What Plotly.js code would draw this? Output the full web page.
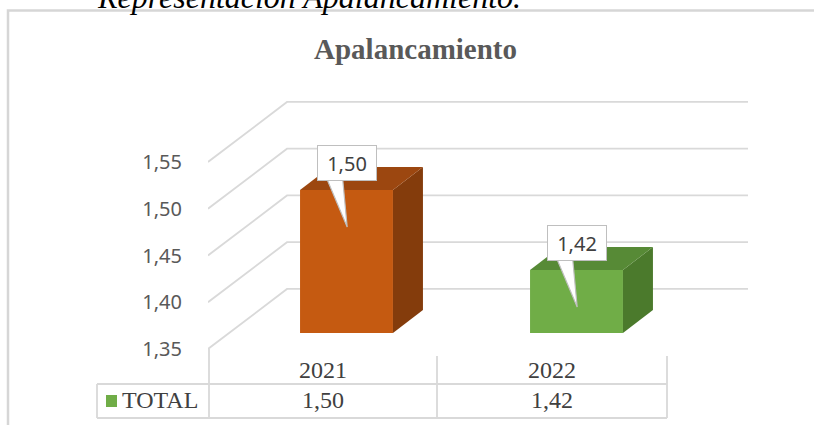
<!DOCTYPE html>
<html>
<head>
<meta charset="utf-8">
<script src="https://cdn.plot.ly/plotly-3.0.1.min.js"></script>
<style>html,body{margin:0;padding:0;background:#fff;}#chart{width:814px;height:425px;}</style>
</head>
<body>
<div id="chart"></div>
<script>
// ---- data ----
const categories = ['2021', '2022'];
const values = [1.50, 1.42];
const tickValues = [1.35, 1.40, 1.45, 1.50, 1.55];
const seriesName = 'TOTAL';
const chartTitle = 'Apalancamiento';
const caption = 'Representación Apalancamiento.';

// ---- styles ----
const frontColors = ['#C55A11', '#70AD47'];
const sideColors = ['#843C0C', '#4B7A2C'];
const topColors = ['#9C4710', '#578A36'];
const gridColor = '#D9D9D9';
const W = 814, H = 425;
const BASE = 1.357;          // floor of the 3D bars
const BAR_W = 0.404;         // bar width in category units
const DX = 0.1304, DY = 0.023; // depth offset of bars (x units, y units)
const GDX = 0.1463, GDY = 0.0642; // depth offset of wall gridlines

const fmt = v => v.toFixed(2).replace('.', ',');

const traces = [];

// gridlines (floor diagonal + back wall), on label axis x/y
tickValues.forEach(v => {
  traces.push({
    type: 'scatter', mode: 'lines', xaxis: 'x', yaxis: 'y',
    x: [0, GDX, 1], y: [v, v + GDY, v + GDY],
    line: {color: gridColor, width: 1.8}, hoverinfo: 'skip', showlegend: false
  });
});

// front faces of bars
traces.push({
  type: 'bar', xaxis: 'x2', yaxis: 'y2', name: seriesName,
  x: categories.map((c, i) => i), y: values.map(v => v - BASE), base: BASE,
  width: BAR_W, marker: {color: frontColors, line: {width: 0}},
  hoverinfo: 'skip', showlegend: false
});

// side and top faces
values.forEach((v, i) => {
  const l = i - BAR_W / 2, r = i + BAR_W / 2;
  traces.push({
    type: 'scatter', mode: 'lines', xaxis: 'x2', yaxis: 'y2', fill: 'toself',
    x: [r, r + DX, r + DX, r, r], y: [BASE, BASE + DY, v + DY, v, BASE],
    fillcolor: sideColors[i], line: {width: 0, color: sideColors[i]},
    hoverinfo: 'skip', showlegend: false
  });
  traces.push({
    type: 'scatter', mode: 'lines', xaxis: 'x2', yaxis: 'y2', fill: 'toself',
    x: [l, l + DX, r + DX, r, l], y: [v, v + DY, v + DY, v, v],
    fillcolor: topColors[i], line: {width: 0, color: topColors[i]},
    hoverinfo: 'skip', showlegend: false
  });
});

// callout wedges
values.forEach((v, i) => {
  traces.push({
    type: 'scatter', mode: 'lines', xaxis: 'x2', yaxis: 'y2', fill: 'toself',
    x: [i - 0.087, i + 0.003, i - 0.017, i - 0.087], y: [v + 0.012, v - 0.037, v + 0.012, v + 0.012],
    fillcolor: '#FFFFFF', line: {width: 1.2, color: '#BFBFBF'},
    hoverinfo: 'skip', showlegend: false
  });
});

const annotations = [];
// title
annotations.push({
  xref: 'paper', yref: 'paper', x: 415 / W, y: 1 - 49 / H, xanchor: 'center', yanchor: 'middle',
  text: '<b>' + chartTitle + '</b>', showarrow: false,
  font: {family: 'Liberation Serif', size: 29, color: '#595959'}
});
// caption (cut off at top)
annotations.push({
  xref: 'paper', yref: 'paper', x: 96 / W, y: 1 - 16 / H, xanchor: 'left', yanchor: 'bottom',
  text: '<i>' + caption + '</i>', showarrow: false, borderpad: 0,
  font: {family: 'Liberation Serif', size: 32, color: '#000000'}
});
// data labels (callouts)
values.forEach((v, i) => {
  annotations.push({
    xref: 'x2', yref: 'y2', x: i + 0.002, y: v + 0.027, xanchor: 'center', yanchor: 'middle',
    text: fmt(v), showarrow: false, width: 54, height: 30, borderpad: 2,
    bgcolor: '#FFFFFF', bordercolor: '#BFBFBF', borderwidth: 1,
    font: {family: 'Noto Sans', size: 20, color: '#404040'}
  });
});
// data table text
const colEdges = [209, 437, 667];
categories.forEach((c, i) => {
  const cx = (colEdges[i] + colEdges[i + 1]) / 2 / W;
  annotations.push({
    xref: 'paper', yref: 'paper', x: cx, y: 1 - 370 / H, xanchor: 'center', yanchor: 'middle',
    text: c, showarrow: false, font: {family: 'Liberation Serif', size: 24, color: '#404040'}
  });
  annotations.push({
    xref: 'paper', yref: 'paper', x: cx, y: 1 - 400 / H, xanchor: 'center', yanchor: 'middle',
    text: fmt(values[i]), showarrow: false, font: {family: 'Liberation Serif', size: 24, color: '#404040'}
  });
});
annotations.push({
  xref: 'paper', yref: 'paper', x: 120 / W, y: 1 - 400 / H, xanchor: 'left', yanchor: 'middle',
  text: seriesName, showarrow: false, font: {family: 'Liberation Serif', size: 24, color: '#404040'}
});

const px = x => x / W, py = y => 1 - y / H;
const lineStyle = {color: gridColor, width: 1.8};
const shapes = [
  // outer chart border (left + top)
  {type: 'path', xref: 'paper', yref: 'paper', path: `M ${px(8)} ${py(440)} L ${px(8)} ${py(10.5)} L ${px(830)} ${py(10.5)}`, line: {color: '#D6D6D6', width: 2.5}},
  // data table
  {type: 'line', xref: 'paper', yref: 'paper', x0: px(209), x1: px(209), y0: py(349), y1: py(418), line: lineStyle},
  {type: 'line', xref: 'paper', yref: 'paper', x0: px(437), x1: px(437), y0: py(356), y1: py(418), line: lineStyle},
  {type: 'line', xref: 'paper', yref: 'paper', x0: px(667), x1: px(667), y0: py(356), y1: py(418), line: lineStyle},
  {type: 'line', xref: 'paper', yref: 'paper', x0: px(97), x1: px(97), y0: py(384), y1: py(418), line: lineStyle},
  {type: 'line', xref: 'paper', yref: 'paper', x0: px(97), x1: px(667), y0: py(384), y1: py(384), line: lineStyle},
  {type: 'line', xref: 'paper', yref: 'paper', x0: px(97), x1: px(667), y0: py(418), y1: py(418), line: lineStyle},
  // legend key
  {type: 'rect', xref: 'paper', yref: 'paper', x0: px(106), x1: px(117), y0: py(407), y1: py(395), fillcolor: frontColors[1], line: {width: 0}}
];

const layout = {
  width: W, height: H,
  margin: {l: 0, r: 0, t: 0, b: 0, pad: 0},
  paper_bgcolor: '#FFFFFF', plot_bgcolor: 'rgba(0,0,0,0)',
  showlegend: false,
  xaxis: {domain: [208 / W, 748 / W], range: [0, 1], visible: false, fixedrange: true, anchor: 'y'},
  yaxis: {
    domain: [0, 1], range: [1.35 - 76 / 935, 1.55 + 162 / 935], anchor: 'x',
    tickvals: tickValues, ticktext: tickValues.map(fmt),
    showgrid: false, zeroline: false, showline: false,
    ticks: 'outside', ticklen: 21, tickcolor: 'rgba(0,0,0,0)',
    tickfont: {family: 'Noto Sans', size: 20, color: '#595959'}, fixedrange: true
  },
  xaxis2: {domain: [231.5 / W, 691.5 / W], range: [-0.5, 1.5], visible: false, anchor: 'y2', fixedrange: true},
  yaxis2: {domain: [0, 1], range: [1.265, 1.69], visible: false, anchor: 'x2', fixedrange: true},
  annotations: annotations,
  shapes: shapes
};

Plotly.newPlot('chart', traces, layout, {displayModeBar: false, staticPlot: true});
</script>
</body>
</html>
